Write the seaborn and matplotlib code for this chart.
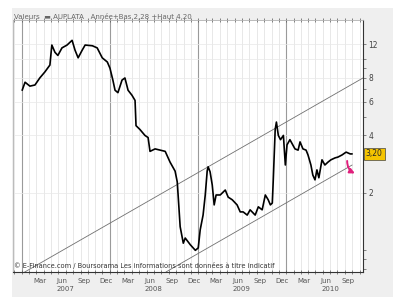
import numpy as np
import pandas as pd
import seaborn as sns
import matplotlib
matplotlib.use("Agg")
import matplotlib.pyplot as plt
import matplotlib.dates as mdates
import matplotlib.ticker as mticker
from matplotlib.patches import Rectangle
from matplotlib.transforms import blended_transform_factory

# AUPLATA price
dates = ["2007-01-02", "2007-01-14", "2007-02-03", "2007-02-24", "2007-03-16", "2007-04-06",
         "2007-04-27", "2007-05-05", "2007-05-18", "2007-05-30", "2007-06-16", "2007-07-07",
         "2007-07-28", "2007-08-09", "2007-08-22", "2007-09-08", "2007-09-20", "2007-10-20",
         "2007-11-09", "2007-11-30", "2007-12-21", "2008-01-01", "2008-01-13", "2008-01-22",
         "2008-02-03", "2008-02-20", "2008-03-03", "2008-03-16", "2008-04-01", "2008-04-14",
         "2008-04-18", "2008-05-04", "2008-05-25", "2008-06-07", "2008-06-15", "2008-07-06",
         "2008-07-27", "2008-08-17", "2008-09-06", "2008-09-27", "2008-10-06", "2008-10-18",
         "2008-10-31", "2008-11-08", "2008-11-29", "2008-12-20", "2009-01-01", "2009-01-09",
         "2009-01-21", "2009-01-30", "2009-02-07", "2009-02-11", "2009-02-19", "2009-02-28",
         "2009-03-08", "2009-03-16", "2009-04-02", "2009-04-23", "2009-05-05", "2009-05-22",
         "2009-06-11", "2009-06-24", "2009-07-06", "2009-07-23", "2009-08-04", "2009-08-25",
         "2009-09-07", "2009-09-23", "2009-10-06", "2009-10-18", "2009-10-27", "2009-11-04",
         "2009-11-08", "2009-11-16", "2009-11-21", "2009-11-29", "2009-12-08", "2009-12-20",
         "2009-12-28", "2010-01-04", "2010-01-16", "2010-02-06", "2010-02-19", "2010-02-27",
         "2010-03-11", "2010-03-24", "2010-04-01", "2010-04-13", "2010-04-21", "2010-04-30",
         "2010-05-08", "2010-05-16", "2010-05-29", "2010-06-10", "2010-06-23", "2010-07-05",
         "2010-07-22", "2010-08-03", "2010-08-20", "2010-09-06", "2010-09-23", "2010-10-01"]
prices = [6.9, 7.6, 7.25, 7.35, 8.0, 8.6,
          9.35, 11.9, 10.9, 10.5, 11.5, 11.9,
          12.6, 11.2, 10.2, 11.2, 11.9, 11.8,
          11.5, 10.2, 9.7, 9.0, 7.8, 6.9,
          6.7, 7.8, 8.0, 6.9, 6.5, 6.1,
          4.5, 4.3, 4.0, 3.9, 3.3, 3.4,
          3.35, 3.3, 2.9, 2.6, 2.28, 1.33,
          1.09, 1.16, 1.07, 1.0, 1.03, 1.28,
          1.53, 1.95, 2.6, 2.74, 2.58, 2.2,
          1.73, 1.95, 1.95, 2.07, 1.9, 1.84,
          1.73, 1.59, 1.59, 1.53, 1.63, 1.53,
          1.69, 1.63, 1.95, 1.84, 1.73, 1.77,
          2.34, 4.3, 4.7, 4.0, 3.8, 4.0,
          2.8, 3.57, 3.8, 3.4, 3.35, 3.7,
          3.4, 3.35, 3.16, 2.8, 2.48, 2.34,
          2.64, 2.4, 2.98, 2.8, 2.9, 2.98,
          3.05, 3.08, 3.16, 3.27, 3.2, 3.2]

# trend channel
upper_dates = ["2006-12-24", "2010-11-15"]
upper_vals = [0.745, 8.0]
lower_dates = ["2008-08-20", "2010-10-01"]
lower_vals = [0.77, 2.8]

y_major = [2, 4, 6, 8, 12]
month_labels = ["Mar", "Jun", "Sep", "Dec"]
years = [2007, 2008, 2009, 2010]
header = "Valeurs  \u25ac AUPLATA   Année+Bas 2,28 +Haut 4,20"
credit = "\u00a9 E-Finance.com / Boursorama Les informations sont données à titre indicatif"

df = pd.DataFrame({"date": pd.to_datetime(dates), "price": prices})

sns.set_style("white")
plt.rcParams["font.family"] = ["DejaVu Sans"]

W, H = 400, 302
fig = plt.figure(figsize=(4.0, 3.02), dpi=100)
fig.patch.set_facecolor("white")
fig.patches.append(Rectangle((12 / W, 1 - 297 / H), (393 - 12) / W, (297 - 8) / H,
                             transform=fig.transFigure, facecolor="#efefef",
                             edgecolor="none", zorder=-5))
ax = fig.add_axes([13 / W, 1 - 272 / H, (363 - 13) / W, (272 - 20) / H])
ax.set_facecolor("white")

# gridlines per month, darker at year starts
for m in pd.date_range("2006-12-01", "2010-11-01", freq="MS"):
    if m.month == 1:
        ax.axvline(m, color="#9a9a9a", lw=0.8, zorder=0)
    else:
        ax.axvline(m, color="#dedede", lw=0.5, zorder=0)
for v in y_major + [10]:
    ax.axhline(v, color="#e8e8e8", lw=0.5, zorder=0)

ax.plot(pd.to_datetime(upper_dates), upper_vals, color="#707070", lw=0.6, zorder=1)
ax.plot(pd.to_datetime(lower_dates), lower_vals, color="#707070", lw=0.6, zorder=1)
sns.lineplot(data=df, x="date", y="price", ax=ax, color="black", lw=1.2, zorder=2)

ax.set_yscale("log")
ax.set_ylim(0.77, 16.1)
ax.set_xlim(pd.Timestamp("2006-11-25"), pd.Timestamp("2010-11-15"))
ax.set_xlabel("")
ax.set_ylabel("")

ax.yaxis.tick_right()
ax.yaxis.set_major_locator(mticker.FixedLocator(y_major))
ax.yaxis.set_major_formatter(mticker.FixedFormatter([str(v) for v in y_major]))
ax.yaxis.set_minor_locator(mticker.LogLocator(base=10, subs=np.arange(1, 10)))
ax.yaxis.set_minor_formatter(mticker.NullFormatter())
ax.tick_params(axis="y", which="both", right=True, left=False, direction="out",
               length=2.5, width=0.5, color="#555", labelsize=5.5, labelcolor="#444", pad=1.5)

ax.xaxis.set_major_locator(mdates.MonthLocator())
ax.xaxis.set_major_formatter(mticker.NullFormatter())
ax.tick_params(axis="x", which="both", bottom=True, top=True, direction="inout",
               length=3, width=0.5, color="#555")

for sp in ["left", "top"]:
    ax.spines[sp].set_color("#b0b0b0")
    ax.spines[sp].set_linewidth(0.6)
for sp in ["right", "bottom"]:
    ax.spines[sp].set_color("#333")
    ax.spines[sp].set_linewidth(0.8)

tr = blended_transform_factory(ax.transData, ax.transAxes)
for yr in years:
    for i, lab in enumerate(month_labels):
        d = pd.Timestamp(year=yr, month=3 + 3 * i, day=15)
        if d < pd.Timestamp("2010-11-15"):
            ax.text(d, -0.035, lab, transform=tr, ha="center", va="center",
                    fontsize=5, color="#555")
    ax.text(pd.Timestamp(year=yr, month=7, day=1), -0.068, str(yr), transform=tr,
            ha="center", va="center", fontsize=5, color="#555")

ax.text(0.003, 0.027, credit, transform=ax.transAxes, fontsize=4.8, color="#333",
        ha="left", va="center")
fig.text(14 / W, 1 - 16 / H, header, fontsize=5, color="#666", ha="left", va="center")

# last price tag and arrow
last_date, last_price = df["date"].iloc[-1], df["price"].iloc[-1]
ty = blended_transform_factory(ax.transAxes, ax.transData)
ax.text(1.008, last_price, f"{last_price:.2f}".replace(".", ","), transform=ty,
        fontsize=5.5, ha="left", va="center", clip_on=False,
        bbox=dict(boxstyle="square,pad=0.25", facecolor="#f5c400", edgecolor="#444", lw=0.5))
ax.annotate("", xy=(last_date + pd.Timedelta(days=22), last_price * 0.78),
            xytext=(last_date - pd.Timedelta(days=20), last_price * 0.95),
            arrowprops=dict(arrowstyle="-|>", color="#e01f7c", lw=1.4,
                            connectionstyle="arc3,rad=0.4", mutation_scale=7),
            annotation_clip=False)

fig.savefig("out.png", dpi=100)
